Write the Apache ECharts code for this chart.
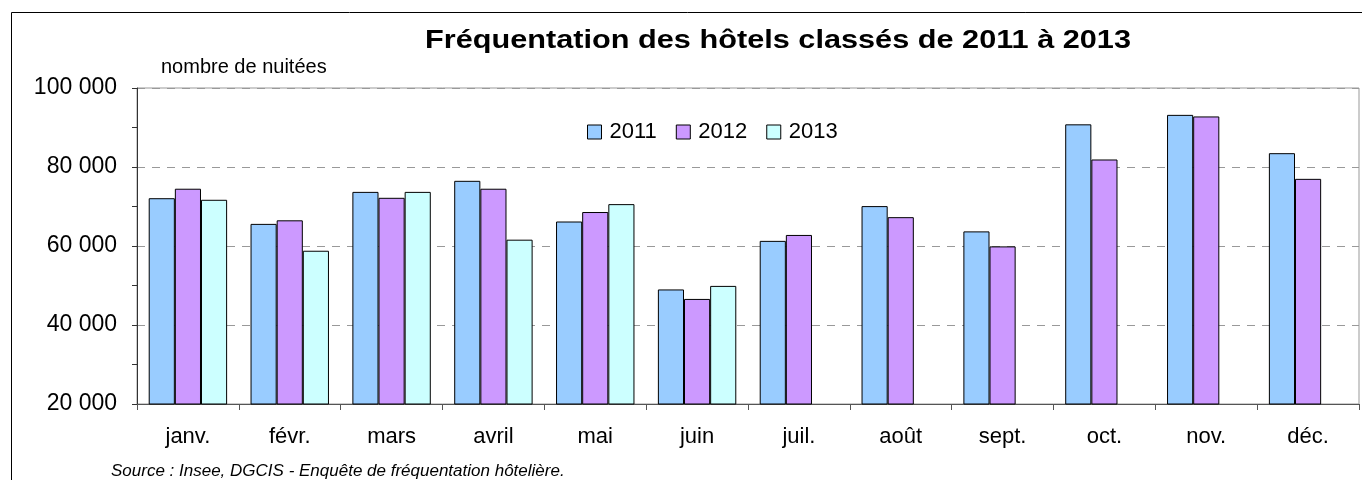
<!DOCTYPE html>
<html>
<head>
<meta charset="utf-8">
<script src="https://cdn.jsdelivr.net/npm/echarts@6/dist/echarts.min.js"></script>
<style>
  html, body { margin: 0; padding: 0; background: #fff; }
  #chart { width: 1362px; height: 480px; }
</style>
</head>
<body>
<div id="chart"></div>
<script>
  // mois
  var months = ['janv.', 'févr.', 'mars', 'avril', 'mai', 'juin', 'juil.', 'août', 'sept.', 'oct.', 'nov.', 'déc.'];
  // nombre de nuitées par année
  var y2011 = [72100, 65600, 73700, 76500, 66200, 49000, 61300, 70100, 63700, 90800, 93200, 83500];
  var y2012 = [74500, 66500, 72200, 74500, 68600, 46600, 62800, 67300, 59900, 81900, 92800, 77000];
  var y2013 = [71700, 58800, 73700, 61600, 70600, 49900, null, null, null, null, null, null];
  var yTicks = [20000, 40000, 60000, 80000, 100000];

  var font = 'Liberation Sans, Arial, sans-serif';

  function fmt(v) {
    return String(v).replace(/\B(?=(\d{3})+(?!\d))/g, ' ');
  }

  function bar(name, data, color) {
    return {
      name: name,
      type: 'bar',
      data: data,
      barGap: '0%',
      barCategoryGap: '23%',
      itemStyle: { color: color, borderColor: '#000', borderWidth: 1 }
    };
  }

  var chart = echarts.init(document.getElementById('chart'));
  chart.setOption({
    animation: false,
    textStyle: { fontFamily: font },
    graphic: [
      { type: 'rect', shape: { x: 11.5, y: 12.5, width: 1400, height: 500 },
        style: { fill: 'none', stroke: '#000', lineWidth: 1 }, z: -10 },
      // titre un peu étiré comme dans l'original
      { type: 'text', x: 425, y: 28, scaleX: 1.18,
        style: { text: 'Fréquentation des hôtels classés de 2011 à 2013', font: 'bold 26px ' + font, fill: '#000' } },
      { type: 'text', left: 161, top: 57,
        style: { text: 'nombre de nuitées', font: '20px ' + font, fill: '#000' } },
      { type: 'text', left: 111, top: 463,
        style: { text: 'Source : Insee, DGCIS - Enquête de fréquentation hôtelière.', font: 'italic 17px ' + font, fill: '#000' } }
    ],
    legend: {
      data: ['2011', '2012', '2013'],
      left: 582, top: 116,
      itemWidth: 14, itemHeight: 14, itemGap: 19,
      icon: 'rect',
      textStyle: { fontSize: 22, color: '#000', fontFamily: font, padding: [0, 0, 0, 3] },
      itemStyle: { borderColor: '#000', borderWidth: 1 }
    },
    grid: {
      left: 137, top: 88, right: 3, bottom: 76,
      show: true, borderColor: '#999', borderWidth: 1
    },
    xAxis: {
      type: 'category',
      data: months,
      axisLine: { lineStyle: { color: '#555', width: 1 } },
      axisTick: { show: true, length: 6, lineStyle: { color: '#555' } },
      axisLabel: { fontSize: 22, color: '#000', margin: 22, fontFamily: font }
    },
    yAxis: {
      type: 'value',
      min: yTicks[0],
      max: yTicks[yTicks.length - 1],
      interval: 20000,
      axisLine: { show: true, lineStyle: { color: '#333', width: 1 } },
      axisTick: { show: true, length: 5, lineStyle: { color: '#333' } },
      minorTick: { show: true, splitNumber: 2, length: 5, lineStyle: { color: '#333' } },
      splitLine: { show: true, lineStyle: { color: '#999', type: [8, 7], width: 1 } },
      axisLabel: { fontSize: 23, color: '#000', margin: 20, fontFamily: font, formatter: fmt }
    },
    series: [
      bar('2011', y2011, '#99CCFF'),
      bar('2012', y2012, '#CC99FF'),
      bar('2013', y2013, '#CCFFFF')
    ]
  });
</script>
</body>
</html>
